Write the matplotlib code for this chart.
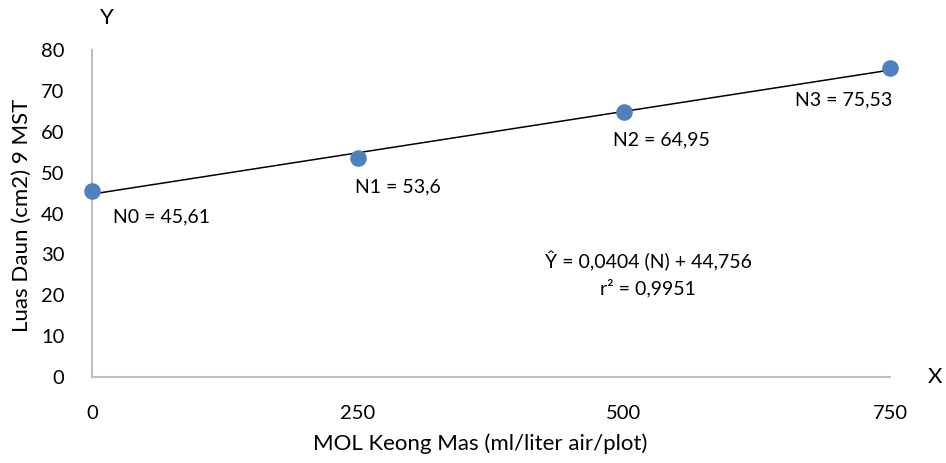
import numpy as np
import matplotlib
matplotlib.use("Agg")
import matplotlib.pyplot as plt

# data
dosis = [0, 250, 500, 750]
luas_daun = [45.61, 53.6, 64.95, 75.53]
label_titik = ["N0 = 45,61", "N1 = 53,6", "N2 = 64,95", "N3 = 75,53"]
x_ticks = [0, 250, 500, 750]
y_ticks = [0, 10, 20, 30, 40, 50, 60, 70, 80]

plt.rcParams['font.family'] = ['Lato', 'DejaVu Sans']
plt.rcParams['font.size'] = 14

fig = plt.figure(figsize=(9.46, 4.63), dpi=100)
ax = fig.add_axes([0.0973, 0.1857, 0.8435, 0.7063])

# trend line
b, a = np.polyfit(dosis, luas_daun, 1)
xx = np.array([dosis[0], dosis[-1]])
ax.plot(xx, b * xx + a, color='black', lw=1.1, zorder=2)

ax.scatter(dosis, luas_daun, s=120, color='#4F81BD', zorder=3, clip_on=False)

offsets = [(21, -26), (-3, -29), (-11, -28), (-95, -32)]
for xv, yv, lab, off in zip(dosis, luas_daun, label_titik, offsets):
    ax.annotate(lab, (xv, yv), xytext=off, textcoords='offset pixels',
                ha='left', va='center', fontsize=14)

ax.text(0.697, 0.355, "Ŷ = 0,0404 (N) + 44,756", transform=ax.transAxes,
        ha='center', va='center', fontsize=14)
ax.text(0.697, 0.272, "r² = 0,9951", transform=ax.transAxes,
        ha='center', va='center', fontsize=14)

ax.set_xlim(0, 750)
ax.set_ylim(0, 80)
ax.set_xticks(x_ticks)
ax.set_yticks(y_ticks)
ax.tick_params(axis='both', length=0, labelsize=14.5)
ax.tick_params(axis='x', pad=20)
ax.tick_params(axis='y', pad=20)

for s in ['top', 'right']:
    ax.spines[s].set_visible(False)
for s in ['left', 'bottom']:
    ax.spines[s].set_color('#BFBFBF')
    ax.spines[s].set_linewidth(1.5)

fig.text(22 / 946, 1 - 215 / 463, "Luas Daun (cm2) 9 MST", rotation=90,
         ha='center', va='center', fontsize=16)
fig.text(480 / 946, 1 - 444 / 463, "MOL Keong Mas (ml/liter air/plot)",
         ha='center', va='center', fontsize=16)
fig.text(107 / 946, 1 - 18 / 463, "Y", ha='center', va='center', fontsize=16)
fig.text(935 / 946, 1 - 377 / 463, "X", ha='center', va='center', fontsize=16)

fig.savefig("out.png", dpi=100)
